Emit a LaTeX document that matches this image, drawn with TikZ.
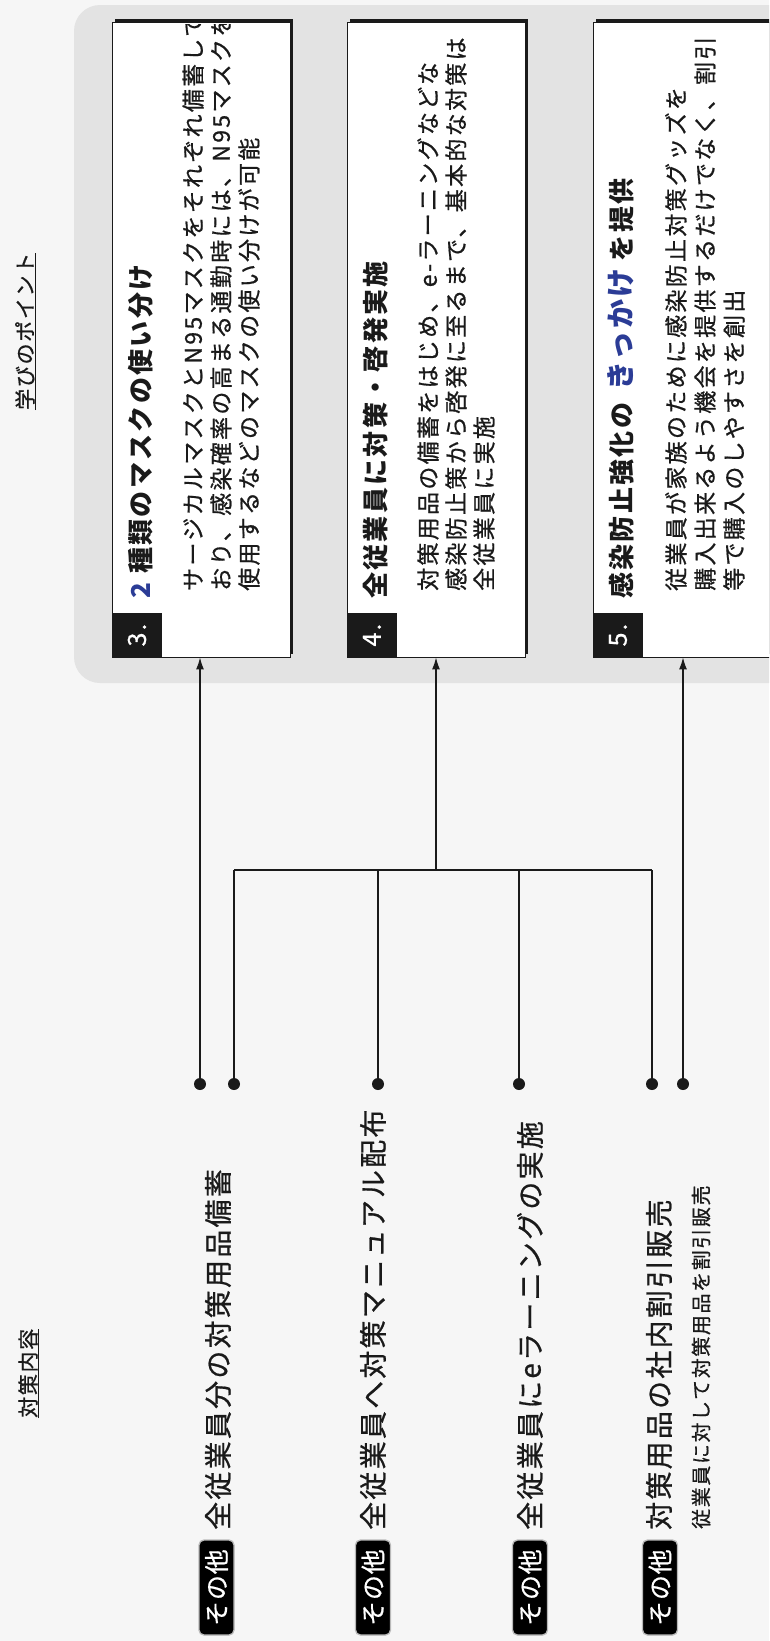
\documentclass[tikz,border=0pt]{standalone}
\usepackage{fontspec}
\setmainfont{Noto Sans CJK JP}
\newfontfamily\jp[LetterSpace=9]{Noto Sans CJK JP}
\newfontfamily\jpm[LetterSpace=8,FakeBold=0.7]{Noto Sans CJK JP}
\newfontfamily\jpb[LetterSpace=10,FakeBold=0.7]{Noto Sans CJK JP}
\newfontfamily\jpt[LetterSpace=3,FakeBold=0.6]{Noto Sans CJK JP}
\usetikzlibrary{arrows.meta,shadows}
\definecolor{bgc}{HTML}{F6F6F6}
\definecolor{panelc}{HTML}{E3E3E3}
\definecolor{ink}{HTML}{1A1A1A}
\definecolor{blu}{HTML}{2B3C96}
\tikzset{
  bodytxt/.style={rotate=90, anchor=west, inner sep=0pt, text height=20.2pt, text depth=2.8pt, text=ink, font=\jpb\fontsize{23}{27}\selectfont},
  titletxt/.style={rotate=90, anchor=west, inner sep=0pt, text height=22.9pt, text depth=3.1pt, text=ink, font=\jp\bfseries\fontsize{26}{30}\selectfont},
  lbltxt/.style={rotate=90, anchor=west, inner sep=0pt, text height=24.6pt, text depth=3.4pt, text=ink, font=\jpm\fontsize{28}{32}\selectfont},
  subtxt/.style={rotate=90, anchor=west, inner sep=0pt, text height=17.6pt, text depth=2.4pt, text=ink, font=\jpm\fontsize{20}{24}\selectfont},
  headtxt/.style={rotate=90, anchor=west, inner sep=0pt, text height=18.5pt, text depth=2.5pt, text=ink, font=\jpm\fontsize{21}{24}\selectfont},
  card/.style={draw=ink, line width=0.8pt, fill=white, minimum width=178pt, minimum height=635pt, inner sep=0pt,
    drop shadow={shadow xshift=3pt, shadow yshift=3pt, opacity=1, fill=ink}},
  numtab/.style={rotate=90, fill=ink, text=white, minimum width=44pt, minimum height=50pt, inner sep=0pt, font=\jpm\fontsize{25}{27}\selectfont},
  badge/.style={rotate=90, fill=black, draw=gray!55, line width=1.3pt, rounded corners=5pt, text=white, minimum width=95pt, minimum height=35pt, inner sep=0pt, font=\jpt\fontsize{25}{27}\selectfont},
  dotn/.style={circle, fill=ink, inner sep=0pt, minimum size=12pt},
  conn/.style={draw=ink, line width=1.3pt},
  barline/.style={draw=ink, line width=2pt},
  arr/.style={conn, -{Latex[length=12pt,width=8pt]}},
  uline/.style={draw=ink, line width=1pt}
}
\begin{document}
\begin{tikzpicture}[x=1pt,y=-1pt]
\clip (0,0) rectangle (769,1641);
\fill[bgc] (0,0) rectangle (769,1641);
% panel
\fill[panelc, rounded corners=26pt] (74,5) rectangle (830,683);

% headers
\node[headtxt] (hd1) at (25,410) {学びのポイント};
\draw[uline] (hd1.south west) -- (hd1.south east);
\node[headtxt] (hd2) at (28,1418) {対策内容};
\draw[uline] (hd2.south west) -- (hd2.south east);

% cards
\node[card] (box3) at (201,339.5) {};
\node[card] (box4) at (436,339.5) {};
\node[card] (box5) at (682,339.5) {};

\node[numtab] (tab3) at (137,635) {3.};
\node[numtab] (tab4) at (372,635) {4.};
\node[numtab] (tab5) at (618,635) {5.};

\node[titletxt] (t3) at (141,599) {{\color{blu}2}\hspace{9pt}種類のマスクの使い分け};
\node[titletxt] (t4) at (376,599) {全従業員に対策・啓発実施};
\node[titletxt] (t5) at (622,599) {感染防止強化の\hspace{12pt}{\color{blu}\fontsize{29}{32}\selectfont きっかけ}\hspace{7pt}を提供};

\begin{scope}
\clip (0,24) rectangle (769,1641);
\node[bodytxt] (b3a) at (193,591) {サージカルマスクとN95マスクをそれぞれ備蓄して};
\node[bodytxt] (b3b) at (221,591) {おり、感染確率の高まる通勤時には、N95マスクを};
\node[bodytxt] (b3c) at (249,591) {使用するなどのマスクの使い分けが可能};
\node[bodytxt] (b4a) at (428,591) {対策用品の備蓄をはじめ、e-ラーニングなどな};
\node[bodytxt] (b4b) at (456,591) {感染防止策から啓発に至るまで、基本的な対策は};
\node[bodytxt] (b4c) at (484,591) {全従業員に実施};
\node[bodytxt] (b5a) at (676,591) {従業員が家族のために感染防止対策グッズを};
\node[bodytxt] (b5b) at (705,591) {購入出来るよう機会を提供するだけでなく、割引};
\node[bodytxt] (b5c) at (734,591) {等で購入のしやすさを創出};
\end{scope}

% left labels
\node[badge] (tag1) at (216.5,1587.5) {その他};
\node[badge] (tag2) at (373,1587.5) {その他};
\node[badge] (tag3) at (530,1587.5) {その他};
\node[badge] (tag4) at (660,1587.5) {その他};

\node[lbltxt] (lab1) at (218,1530) {全従業員分の対策用品備蓄};
\node[lbltxt] (lab2) at (373,1530) {全従業員へ対策マニュアル配布};
\node[lbltxt] (lab3) at (530,1530) {全従業員にeラーニングの実施};
\node[lbltxt] (lab4) at (659,1530) {対策用品の社内割引販売};
\node[subtxt] (sub4) at (701,1529) {従業員に対して対策用品を割引販売};

% dots
\node[dotn] (d1a) at (200,1084) {};
\node[dotn] (d1b) at (234,1084) {};
\node[dotn] (d2) at (378,1084) {};
\node[dotn] (d3) at (519,1084) {};
\node[dotn] (d4a) at (652,1084) {};
\node[dotn] (d4b) at (683,1084) {};

% connectors
\coordinate (barL) at (234,870);
\coordinate (barR) at (652,870);
\coordinate (j2) at (378,870);
\coordinate (j3) at (519,870);
\coordinate (j4) at (436,870);
\draw[barline] (barL) -- (barR);
\draw[conn] (d1b) -- (barL);
\draw[conn] (d2) -- (j2);
\draw[conn] (d3) -- (j3);
\draw[conn] (d4a) -- (barR);
\draw[arr] (j4) -- (box4);
\draw[arr] (d1a) -- (d1a |- box3.south);
\draw[arr] (d4b) -- (d4b |- box5.south);
\end{tikzpicture}
\end{document}
